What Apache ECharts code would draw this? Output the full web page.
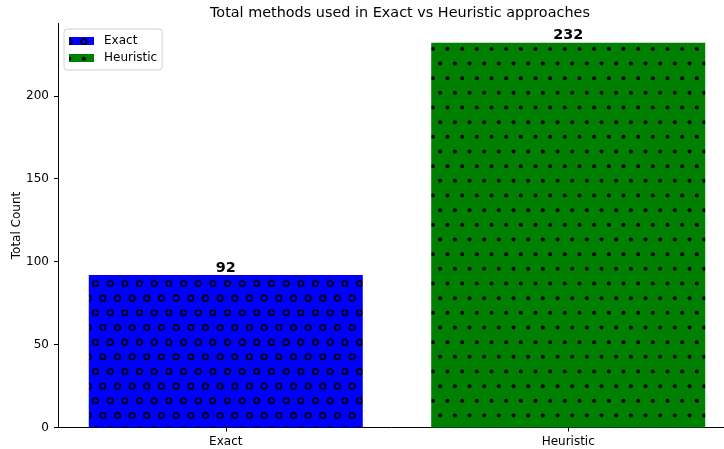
<!DOCTYPE html>
<html>
<head>
<meta charset="utf-8">
<script src="https://cdn.jsdelivr.net/npm/echarts@6/dist/echarts.min.js"></script>
<style>
  html, body { margin: 0; padding: 0; background: #fff; }
  #main { width: 724px; height: 449px; }
</style>
</head>
<body>
<div id="main"></div>
<script>
const categories = ['Exact', 'Heuristic'];
const exactValues = [[0, 92]];
const heuristicValues = [[1, 232]];
const xTicks = [0, 1];
const yTicks = [0, 50, 100, 150, 200];

// hatch tile: staggered rows, 6 x 6 cells so it repeats cleanly
function hatch(bg, ring) {
  const size = 88, step = size / 6, offX = 7.5, offY = 19.5;
  const c = document.createElement('canvas');
  c.width = size;
  c.height = size;
  const ctx = c.getContext('2d');
  ctx.fillStyle = bg;
  ctx.fillRect(0, 0, size, size);
  ctx.fillStyle = '#000';
  ctx.strokeStyle = '#000';
  ctx.lineWidth = 1.6;
  const pts = [];
  for (let i = -1; i <= 6; i++) {
    for (let j = -1; j <= 3; j++) {
      pts.push([offX + i * step, offY + j * 2 * step]);
      pts.push([offX + step / 2 + i * step, offY + step + j * 2 * step]);
    }
  }
  pts.forEach(p => {
    ctx.beginPath();
    if (ring) {
      ctx.arc(p[0], p[1], 2.8, 0, Math.PI * 2);
      ctx.stroke();
    } else {
      ctx.arc(p[0], p[1], 2, 0, Math.PI * 2);
      ctx.fill();
    }
  });
  return { image: c, repeat: 'repeat' };
}

const chart = echarts.init(document.getElementById('main'), null, { renderer: 'canvas' });

const font = 'DejaVu Sans';
const barLabel = {
  show: true, position: 'top', distance: 0,
  fontFamily: font, fontSize: 14.4, fontWeight: 'bold', color: '#000',
  formatter: p => p.value[1]
};

const option = {
  animation: false,
  backgroundColor: '#fff',
  title: {
    text: 'Total methods used in Exact vs Heuristic approaches',
    left: 205,
    top: 1,
    textStyle: { fontFamily: font, fontSize: 14.4, fontWeight: 'normal', color: '#000' }
  },
  legend: {
    orient: 'vertical',
    left: 64,
    top: 29,
    padding: [6, 5, 6, 5],
    itemGap: 5,
    itemWidth: 25,
    itemHeight: 8,
    icon: 'rect',
    borderColor: '#d0d0d0',
    borderWidth: 1,
    borderRadius: 3,
    backgroundColor: 'rgba(255,255,255,0.8)',
    textStyle: { fontFamily: font, fontSize: 12, color: '#000', padding: [0, 0, 0, 5] },
    data: ['Exact', 'Heuristic']
  },
  grid: { left: 58, right: -12, top: 23.5, bottom: 21.5, outerBoundsMode: 'none' },
  xAxis: {
    type: 'value',
    min: -0.49,
    max: 1.49,
    axisLine: { show: true, onZero: false, lineStyle: { color: '#000', width: 1 } },
    axisTick: { show: true, length: 4, customValues: xTicks, lineStyle: { color: '#000' } },
    axisLabel: {
      fontFamily: font, fontSize: 12, color: '#000', margin: 8,
      customValues: xTicks,
      formatter: v => categories[Math.round(v)]
    },
    splitLine: { show: false }
  },
  yAxis: {
    type: 'value',
    min: 0,
    max: 243.6,
    interval: 50,
    name: 'Total Count',
    nameLocation: 'middle',
    nameGap: 35,
    nameMoveOverlap: false,
    nameTextStyle: { fontFamily: font, fontSize: 12, color: '#000' },
    axisLine: { show: true, onZero: false, lineStyle: { color: '#000', width: 1 } },
    axisTick: { show: true, length: 4, customValues: yTicks, lineStyle: { color: '#000' } },
    axisLabel: { fontFamily: font, fontSize: 12, color: '#000', margin: 9, customValues: yTicks },
    splitLine: { show: false }
  },
  series: [
    {
      name: 'Exact',
      type: 'bar',
      data: exactValues,
      barWidth: 274,
      barGap: '-100%',
      itemStyle: { color: hatch('#0000ff', true) },
      label: barLabel
    },
    {
      name: 'Heuristic',
      type: 'bar',
      data: heuristicValues,
      barWidth: 274,
      barGap: '-100%',
      itemStyle: { color: hatch('#008000', false) },
      label: barLabel
    }
  ]
};

chart.setOption(option);
</script>
</body>
</html>
